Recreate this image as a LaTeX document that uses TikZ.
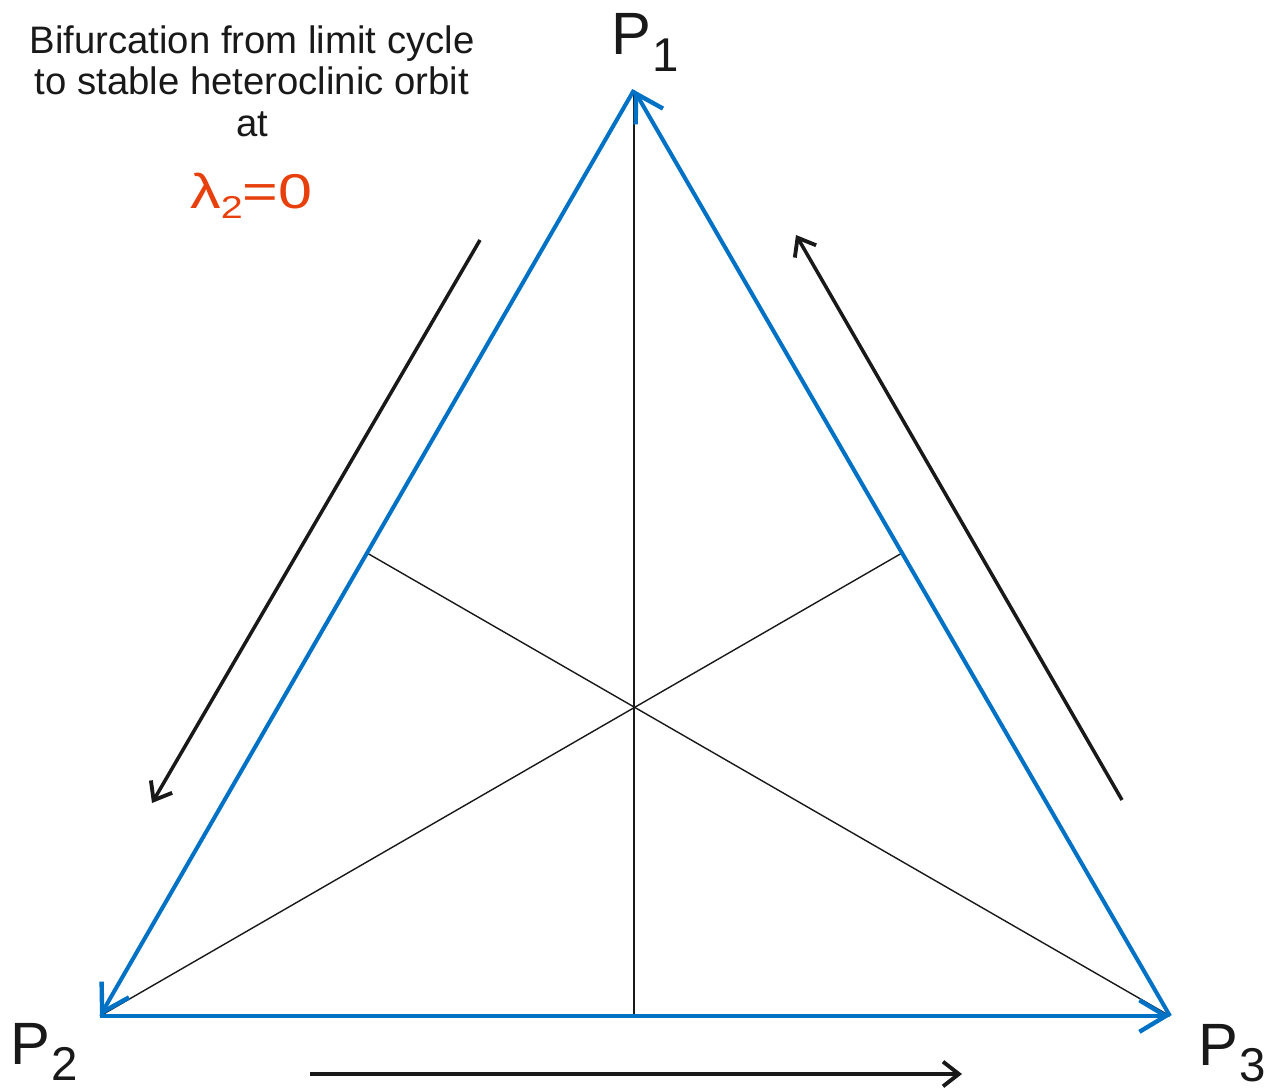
\documentclass[tikz,border=0pt]{standalone}
\usepackage{fontspec}
\setmainfont{Liberation Sans}
\usetikzlibrary{arrows.meta}
\definecolor{edgeblue}{RGB}{0,114,198}
\definecolor{lamred}{RGB}{232,64,12}
\newcommand{\vlabel}[1]{\fontsize{34}{34}\selectfont P\kern1pt\raisebox{-9.6pt}{\fontsize{27}{27}\selectfont #1}}

\begin{document}
\begin{tikzpicture}[x=0.02cm,y=-0.02cm,
        edge/.style={edgeblue,line width=2.3pt,-{Straight Barb[length=15pt,width=18pt,line width=2.5pt]}},
        thin/.style={black!90,line width=0.8pt},
        flow/.style={black!90,line width=2pt,-{Straight Barb[length=9pt,width=14pt,line width=2.2pt]}},
        lab/.style={inner sep=0pt,text=black!90}]
        \useasboundingbox (0,0) rectangle (1274,1088);
        \coordinate (p1) at (634,90);
        \coordinate (p2) at (100,1016);
        \coordinate (p3) at (1170,1016);
        \coordinate (m12) at (367,553);
        \coordinate (m13) at (902,553);
        \coordinate (m23) at (634,1016);
        \draw[thin] (p1) -- (m23);
        \draw[thin] (p2) -- (m13);
        \draw[thin] (p3) -- (m12);
        \draw[edge] (p1) -- (p2);
        \draw[edge] (p2) -- (p3);
        \draw[edge] (p3) -- (p1);
        \coordinate (f1a) at (480,240);
        \coordinate (f1b) at (152,803);
        \coordinate (f2a) at (1122,800);
        \coordinate (f2b) at (796,235);
        \coordinate (f3a) at (310,1074);
        \coordinate (f3b) at (962,1074);
        \draw[flow] (f1a) -- (f1b);
        \draw[flow] (f2a) -- (f2b);
        \draw[flow] (f3a) -- (f3b);
        \node[lab,anchor=base west] (l1) at (611,55) {\vlabel{1}};
        \node[lab,anchor=base west] (l2) at (10,1064) {\vlabel{2}};
        \node[lab,anchor=base west] (l3) at (1198,1065) {\vlabel{3}};
        \node[lab,anchor=north,align=center,font=\fontsize{21.8}{23.8}\selectfont] (title) at (252,25)
            {Bifurcation from limit cycle\\to stable heteroclinic orbit\\at};
        \node[lab,anchor=base,text=lamred] (lam) at (251.5,208)
            {\scalebox{1.25}[1]{\fontsize{27.8}{27.8}\selectfont λ\raisebox{-5.7pt}{\fontsize{18}{18}\selectfont 2}=0}};
\end{tikzpicture}
\end{document}
